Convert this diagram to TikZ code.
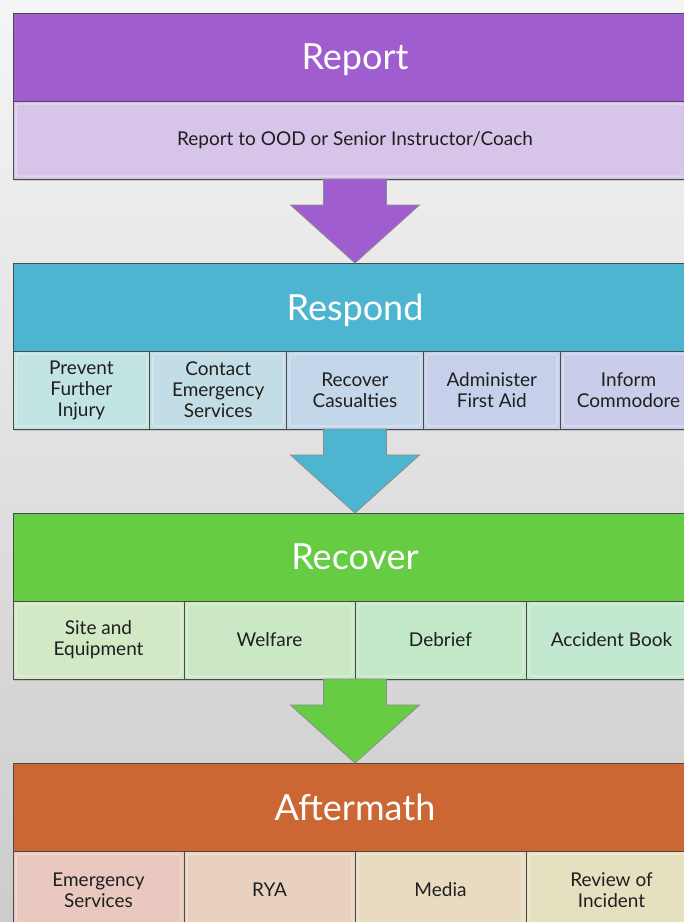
\documentclass[tikz,border=0pt]{standalone}
\usepackage{fontspec}
\setmainfont{Lato}
\usetikzlibrary{positioning,calc,shadows}

\definecolor{edgegrey}{HTML}{4A4A4A}
\definecolor{rpthead}{HTML}{A05DD0}
\definecolor{rptsub}{HTML}{D6C5E8}
\definecolor{rsphead}{HTML}{4DB5CF}
\definecolor{rspsubA}{HTML}{C2E4E2}
\definecolor{rspsubB}{HTML}{C3DDE6}
\definecolor{rspsubC}{HTML}{C4D6E9}
\definecolor{rspsubD}{HTML}{C6D0EA}
\definecolor{rspsubE}{HTML}{C9CDEA}
\definecolor{rcvhead}{HTML}{66CC44}
\definecolor{rcvsubA}{HTML}{D3E8C4}
\definecolor{rcvsubB}{HTML}{CAE8C4}
\definecolor{rcvsubC}{HTML}{C3E8C8}
\definecolor{rcvsubD}{HTML}{C3E8D0}
\definecolor{afthead}{HTML}{CC6633}
\definecolor{aftsubA}{HTML}{E8C8BF}
\definecolor{aftsubB}{HTML}{E8D1BF}
\definecolor{aftsubC}{HTML}{E8DBBF}
\definecolor{aftsubD}{HTML}{E5E1C0}

\begin{document}
\begin{tikzpicture}[x=1pt, y=-1pt,
  head/.style={draw=edgegrey, line width=0.8pt, minimum width=684pt,
    minimum height=88pt, inner sep=0pt, outer sep=0pt, text=white,
    text depth=0pt, anchor=north west, font=\fontsize{36}{40}\selectfont,
    drop shadow={opacity=0.3, shadow xshift=1pt, shadow yshift=-1.5pt}},
  sub/.style={draw=edgegrey, line width=0.8pt, minimum height=78pt,
    inner sep=0pt, outer sep=0pt, align=center, text=black!88,
    font=\fontsize{19}{21}\selectfont,
    drop shadow={opacity=0.3, shadow xshift=1pt, shadow yshift=-1.5pt},
    path picture={\draw[white, opacity=0.3, line width=1.5pt, rounded corners=3pt]
      ([shift={(3pt,-3pt)}]path picture bounding box.north west) rectangle
      ([shift={(-3pt,3pt)}]path picture bounding box.south east);}},
  flow/.style={draw=black!45, line width=0.8pt, line join=miter}
]
  \clip (0,0) rectangle (684,922);
  \shade[top color=black!4, bottom color=black!20] (0,0) rectangle (684,922);

  % report
  \node[head, fill=rpthead] (report) at (13,13) {Report};
  \node[sub, fill=rptsub, minimum width=684pt, anchor=north west] (rptsub)
    at (report.south west) {Report to OOD or Senior Instructor/Coach};

  % respond
  \node[head, fill=rsphead] (respond) at (13,263) {Respond};
  \begin{scope}[sub/.append style={minimum width=136.8pt}]
    \node[sub, fill=rspsubA, anchor=north west] (rsp1) at (respond.south west)
      {Prevent\\Further\\Injury};
    \node[sub, fill=rspsubB, right=0pt of rsp1] (rsp2) {Contact\\Emergency\\Services};
    \node[sub, fill=rspsubC, right=0pt of rsp2] (rsp3) {Recover\\Casualties};
    \node[sub, fill=rspsubD, right=0pt of rsp3] (rsp4) {Administer\\First Aid};
    \node[sub, fill=rspsubE, right=0pt of rsp4] (rsp5) {Inform\\Commodore};
  \end{scope}

  % recover
  \node[head, fill=rcvhead] (recover) at (13,513) {Recover};
  \begin{scope}[sub/.append style={minimum width=171pt}]
    \node[sub, fill=rcvsubA, anchor=north west] (rcv1) at (recover.south west)
      {Site and\\Equipment};
    \node[sub, fill=rcvsubB, right=0pt of rcv1] (rcv2) {Welfare};
    \node[sub, fill=rcvsubC, right=0pt of rcv2] (rcv3) {Debrief};
    \node[sub, fill=rcvsubD, right=0pt of rcv3] (rcv4) {Accident Book};
  \end{scope}

  % aftermath
  \node[head, fill=afthead] (aftermath) at (13,763) {Aftermath};
  \begin{scope}[sub/.append style={minimum width=171pt}]
    \node[sub, fill=aftsubA, anchor=north west] (aft1) at (aftermath.south west)
      {Emergency\\Services};
    \node[sub, fill=aftsubB, right=0pt of aft1] (aft2) {RYA};
    \node[sub, fill=aftsubC, right=0pt of aft2] (aft3) {Media};
    \node[sub, fill=aftsubD, right=0pt of aft3] (aft4) {Review of\\Incident};
  \end{scope}

  % block arrows between the stages
  \foreach \from/\to/\col in {report/respond/rpthead, respond/recover/rsphead,
      recover/aftermath/rcvhead}
    \draw[flow, fill=\col] ($(\from.south)+(-31.5,78)$) -- ++(0,26) -- ++(-33,0)
      -- (\to.north) -- ++(64.5,-58) -- ++(-33,0) -- ++(0,-26) -- cycle;
\end{tikzpicture}
\end{document}
